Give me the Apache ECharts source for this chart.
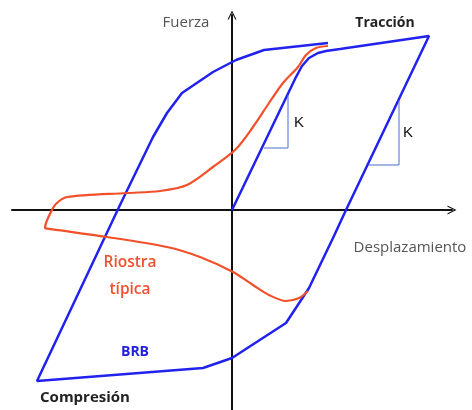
<!DOCTYPE html>
<html><head><meta charset="utf-8">
<script src="https://cdn.jsdelivr.net/npm/echarts@6/dist/echarts.min.js"></script>
<style>html,body{margin:0;padding:0;background:#fff}#c{width:472px;height:410px}</style>
</head><body><div id="c"></div>
<script>
// BRB hysteresis loop (displacement, force) in arbitrary units
const brbDisp  = [0, 3.2, 3.5, 3.85, 4.3, 4.7, 5.4, 9.85, 5.7, 5.05, 3.85, 2.7, 0, -1.45, -9.75, -5.6, -3.95, -3.25, -2.5, -0.95, 0.2, 1.6, 4.8];
const brbForce = [0, 6.65, 7.2, 7.6, 7.85, 7.95, 8.05, 8.7, 0, -1.4, -3.9, -5.65, -7.4, -7.9, -8.55, 0.25, 3.65, 4.85, 5.85, 6.9, 7.5, 8.0, 8.35];
// Typical brace curve
const braceDisp  = [4.8, 4.2, 3.7, 3.3, 2.55, 1.85, 1.05, 0.2, -0.95, -2.25, -3.6, -5.25, -8.25, -8.7, -8.95, -9.35, -9.3, -6.25, -3.25, -1.6, 0.05, 1.05, 1.85, 2.7, 3.35, 3.8];
const braceForce = [8.2, 8.1, 7.75, 7.15, 6.35, 5.35, 4.15, 3.05, 2.15, 1.25, 0.95, 0.85, 0.65, 0.4, 0.1, -0.9, -0.92, -1.35, -1.85, -2.35, -3.1, -3.75, -4.25, -4.55, -4.4, -4.05];
// Stiffness (K) triangles
const k1Disp = [2.8, 2.8, 1.6], k1Force = [5.75, 3.1, 3.1];
const k2Disp = [8.35, 8.35, 6.85], k2Force = [5.5, 2.25, 2.25];

const zip = (a, b) => a.map((v, i) => [v, b[i]]);
const chev = 'path://M0,10 L5,0 L10,10 L8.6,10 L5,2.6 L1.4,10 Z';
const chart = echarts.init(document.getElementById('c'), null, {renderer: 'canvas'});
const axisCommon = {
  type: 'value', axisLabel: {show: false}, splitLine: {show: false}, axisTick: {show: false},
  axisLine: {onZero: true, lineStyle: {color: '#111', width: 2}, symbol: ['none', chev], symbolSize: [11, 9]}
};
const sans = '"Open Sans", "Noto Sans", sans-serif';
chart.setOption({
  animation: false,
  grid: {left: 12, right: 20, top: 15, bottom: 0},
  xAxis: Object.assign({min: -11, max: 11}, axisCommon),
  yAxis: Object.assign({min: -10, max: 9.75}, axisCommon),
  series: [
    {type: 'line', data: zip(brbDisp, brbForce), showSymbol: false, lineStyle: {color: '#2222ee', width: 2.5}, z: 3},
    {type: 'line', data: zip(braceDisp, braceForce), showSymbol: false, smooth: 0.3, lineStyle: {color: '#f2502a', width: 2.2}, z: 4},
    {type: 'line', data: zip(k1Disp, k1Force), showSymbol: false, lineStyle: {color: '#4a6ec8', width: 1}},
    {type: 'line', data: zip(k2Disp, k2Force), showSymbol: false, lineStyle: {color: '#4a6ec8', width: 1}}
  ],
  graphic: [
    {type: 'text', style: {text: 'Fuerza', x: 186, y: 23, align: 'center', verticalAlign: 'middle', font: '15px ' + sans, fill: '#555'}},
    {type: 'text', style: {text: 'Tracción', x: 385, y: 23, align: 'center', verticalAlign: 'middle', font: 'bold 14px ' + sans, fill: '#222'}},
    {type: 'text', style: {text: 'Desplazamiento', x: 410, y: 248, align: 'center', verticalAlign: 'middle', font: '15px ' + sans, fill: '#555'}},
    {type: 'text', style: {text: 'Riostra', x: 130, y: 263, align: 'center', verticalAlign: 'middle', font: '600 15.5px ' + sans, fill: '#f0502f'}},
    {type: 'text', style: {text: 'típica', x: 130, y: 290, align: 'center', verticalAlign: 'middle', font: '600 15.5px ' + sans, fill: '#f0502f'}},
    {type: 'text', style: {text: 'BRB', x: 135, y: 352, align: 'center', verticalAlign: 'middle', font: 'bold 14px ' + sans, fill: '#2222dd'}},
    {type: 'text', style: {text: 'Compresión', x: 85, y: 398, align: 'center', verticalAlign: 'middle', font: 'bold 15px ' + sans, fill: '#222'}},
    {type: 'text', style: {text: 'K', x: 299, y: 123, align: 'center', verticalAlign: 'middle', font: '15px "Liberation Sans", Arial, sans-serif', fill: '#111'}},
    {type: 'text', style: {text: 'K', x: 408, y: 133, align: 'center', verticalAlign: 'middle', font: '15px "Liberation Sans", Arial, sans-serif', fill: '#111'}}
  ]
});
</script></body></html>
